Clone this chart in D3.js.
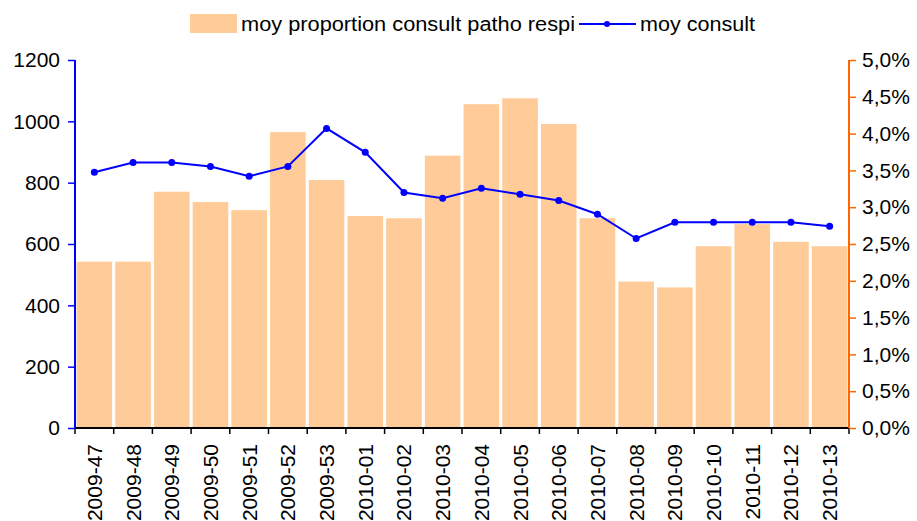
<!DOCTYPE html>
<html>
<head>
<meta charset="utf-8">
<script src="https://cdn.jsdelivr.net/npm/d3@7"></script>
<style>
  body { margin: 0; background: #fff; }
  text { font-family: "Liberation Sans", Arial, sans-serif; }
</style>
</head>
<body>
<div id="chart"></div>
<script>
const weeks = ['2009-47', '2009-48', '2009-49', '2009-50', '2009-51', '2009-52', '2009-53',
  '2010-01', '2010-02', '2010-03', '2010-04', '2010-05', '2010-06', '2010-07', '2010-08',
  '2010-09', '2010-10', '2010-11', '2010-12', '2010-13'];
// moy proportion consult patho respi (right axis, %)
const proportion = [2.26, 2.26, 3.21, 3.07, 2.96, 4.02, 3.37, 2.88, 2.85, 3.70,
  4.40, 4.48, 4.13, 2.85, 1.99, 1.91, 2.47, 2.77, 2.53, 2.47];
// moy consult (left axis)
const consult = [834, 866, 866, 853, 821, 853, 977, 899, 768, 749,
  782, 762, 742, 697, 618, 671, 671, 671, 671, 658];
const leftTicks = [0, 200, 400, 600, 800, 1000, 1200];
const rightTicks = [0, 0.5, 1, 1.5, 2, 2.5, 3, 3.5, 4, 4.5, 5];

const width = 917, height = 521;
const margin = {top: 60, right: 68, bottom: 93, left: 75};
const cw = width - margin.left - margin.right;
const ch = height - margin.top - margin.bottom;

const svg = d3.select('#chart').append('svg').attr('width', width).attr('height', height);
const g = svg.append('g').attr('transform', `translate(${margin.left}, ${margin.top})`);

const xScale = d3.scaleBand().domain(weeks).range([0, cw]).paddingInner(0.08).paddingOuter(0.04);
const yLeft = d3.scaleLinear().domain([0, 1200]).range([ch, 0]);
const yRight = d3.scaleLinear().domain([0, 5]).range([ch, 0]);

// bars
g.selectAll('rect.bar')
  .data(weeks)
  .join('rect')
  .attr('class', 'bar')
  .attr('x', d => xScale(d))
  .attr('y', (d, i) => yRight(proportion[i]))
  .attr('width', xScale.bandwidth())
  .attr('height', (d, i) => ch - yRight(proportion[i]))
  .attr('fill', '#FFCC99');

// line
const cx = d => xScale(d) + xScale.bandwidth() / 2;
const line = d3.line().x(d => cx(d)).y((d, i) => yLeft(consult[i]));
g.append('path')
  .datum(weeks)
  .attr('d', line)
  .attr('fill', 'none')
  .attr('stroke', '#0000FF')
  .attr('stroke-width', 2);
g.selectAll('circle.pt')
  .data(weeks)
  .join('circle')
  .attr('class', 'pt')
  .attr('cx', d => cx(d))
  .attr('cy', (d, i) => yLeft(consult[i]))
  .attr('r', 3.5)
  .attr('fill', '#0000FF');

// x axis
const xAxisStep = d3.scaleLinear().domain([0, weeks.length]).range([0, cw]);
const xa = g.append('g').attr('transform', `translate(0, ${ch})`);
xa.append('line').attr('x1', 0).attr('x2', cw).attr('stroke', '#000').attr('stroke-width', 2);
xa.selectAll('line.tk')
  .data(d3.range(weeks.length + 1))
  .join('line')
  .attr('class', 'tk')
  .attr('x1', d => xAxisStep(d)).attr('x2', d => xAxisStep(d))
  .attr('y1', 0).attr('y2', 6)
  .attr('stroke', '#000').attr('stroke-width', 1.5);
xa.selectAll('text')
  .data(weeks)
  .join('text')
  .attr('transform', d => `translate(${cx(d) + 7.5}, 16) rotate(-90)`)
  .attr('text-anchor', 'end')
  .attr('font-size', 21)
  .attr('fill', '#000')
  .text(d => d);

// left axis
const ya = g.append('g')
  .call(d3.axisLeft(yLeft).tickValues(leftTicks).tickSize(7).tickPadding(8).tickFormat(d3.format('d')));
ya.select('.domain').attr('stroke', '#0000FF').attr('stroke-width', 2).attr('d', `M0,${ch}V0`);
ya.selectAll('.tick line').attr('stroke', '#0000FF').attr('stroke-width', 1.5);
ya.selectAll('.tick text').attr('font-size', 21).attr('fill', '#000')
  .style('font-family', '"Liberation Sans", Arial, sans-serif');

// right axis
const yr = g.append('g')
  .attr('transform', `translate(${cw}, 0)`)
  .call(d3.axisRight(yRight).tickValues(rightTicks).tickSize(7).tickPadding(6)
    .tickFormat(d => d.toFixed(1).replace('.', ',') + '%'));
yr.select('.domain').attr('stroke', '#FF6600').attr('stroke-width', 2).attr('d', `M0,${ch}V0`);
yr.selectAll('.tick line').attr('stroke', '#FF6600').attr('stroke-width', 1.5);
yr.selectAll('.tick text').attr('font-size', 21).attr('fill', '#000')
  .style('font-family', '"Liberation Sans", Arial, sans-serif');

// legend
const lg = svg.append('g');
lg.append('rect').attr('x', 190).attr('y', 14).attr('width', 47).attr('height', 19).attr('fill', '#FFCC99');
lg.append('text').attr('x', 241).attr('y', 31).attr('font-size', 20).attr('textLength', 334)
  .attr('lengthAdjust', 'spacingAndGlyphs').text('moy proportion consult patho respi');
lg.append('line').attr('x1', 579).attr('x2', 636).attr('y1', 24).attr('y2', 24)
  .attr('stroke', '#0000FF').attr('stroke-width', 2);
lg.append('circle').attr('cx', 607).attr('cy', 24).attr('r', 3).attr('fill', '#0000FF');
lg.append('text').attr('x', 640).attr('y', 31).attr('font-size', 20).attr('textLength', 115)
  .attr('lengthAdjust', 'spacingAndGlyphs').text('moy consult');
</script>
</body>
</html>
